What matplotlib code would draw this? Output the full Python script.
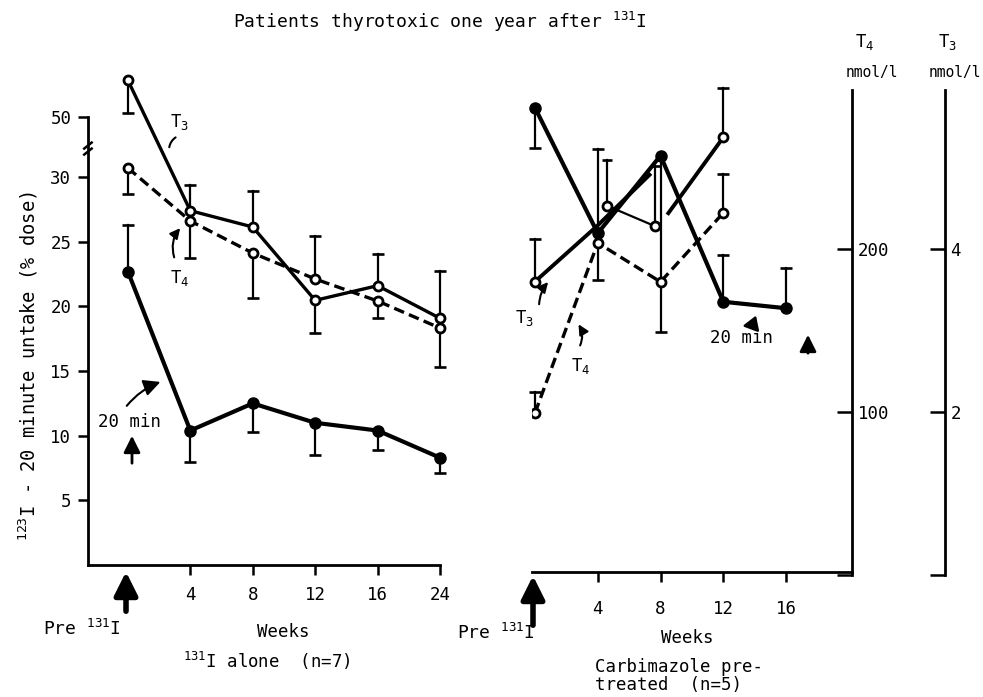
import numpy as np
import matplotlib
matplotlib.use("Agg")
import matplotlib.pyplot as plt

plt.rcParams['font.family'] = ['DejaVu Sans Mono']
plt.rcParams['mathtext.fontset'] = 'custom'
plt.rcParams['mathtext.rm'] = 'DejaVu Sans Mono'
plt.rcParams['mathtext.it'] = 'DejaVu Sans Mono'

# ---------------- data ----------------
left_labels = ["Pre", "4", "8", "12", "16", "24"]
left_pos = [0, 1, 2, 3, 4, 5]
min20_left = [22.7, 10.4, 12.5, 11.0, 10.4, 8.3]          # % dose
min20_left_err = [26.3, 8.0, 10.3, 8.5, 8.9, 7.1]        # error bar end
t3_left = [6.07, 4.47, 4.27, 3.37, 3.55, 3.15]            # nmol/l
t3_left_err = [5.67, 4.79, 4.71, 2.97, 3.94, 3.73]
t4_left = [249.7, 217.2, 197.5, 181.6, 168.1, 151.5]      # nmol/l
t4_left_err = [233.7, 194.5, 169.9, 208.0, 157.7, 127.6]

right_weeks = [0, 4, 8, 12, 16]
min20_right = [35.9, 26.2, 32.2, 20.9, 20.4]
min20_right_err = [32.8, 32.7, 18.6, 24.5, 23.5]
t4_right_weeks = [0, 4, 8, 12]
t4_right = [99.4, 203.7, 179.8, 222.1]
t4_right_err = [112.3, 181.0, np.nan, 246.0]
t3_right_weeks = [0, 4, 7.3, np.nan, 8.5, 12]
t3_right = [3.60, 4.29, 4.91, np.nan, 4.44, 5.37]
t3_right_pts_weeks = [0, 12]
t3_right_pts = [3.60, 5.37]
t3_right_err = [4.12, 5.98]
t3b_right_weeks = [4.6, 7.65]
t3b_right = [4.53, 4.28]
t3b_right_err = [5.09, 5.02]

left_yticks = [5, 10, 15, 20, 25, 30, 50]
right_xticks = [4, 8, 12, 16]
t4_ticks = [0, 100, 200]
t4_ticklabels = ["", "100", "200"]
t3_ticks = [0, 2, 4]
t3_ticklabels = ["", "2", "4"]

# ---------------- figure ----------------
W, H = 983, 697
fig = plt.figure(figsize=(W / 100, H / 100), dpi=100)


def axes_px(left, right, top, bottom):
    ax = fig.add_axes([left / W, 1 - bottom / H, (right - left) / W, (bottom - top) / H])
    ax.patch.set_alpha(0)
    return ax


def bare(ax):
    for s in ax.spines.values():
        s.set_visible(False)
    ax.set_xticks([])
    ax.set_yticks([])


def errbars(ax, xs, ys, ends, cap=9):
    for x, y, e in zip(xs, ys, ends):
        if np.isfinite(e):
            ax.plot([x, x], [y, e], color='k', lw=1.6, zorder=2, clip_on=False)
            ax.plot([x], [e], marker='_', ms=cap, mew=1.9, color='k', zorder=2, clip_on=False)


BRK = 0.2325


def fwd(v):
    v = np.asarray(v, float)
    return np.where(v <= 30, v, 30 + (v - 30) * BRK)


def inv(d):
    d = np.asarray(d, float)
    return np.where(d <= 30, d, 30 + (d - 30) / BRK)


LW = 2.4
dash = (0, (3.2, 1.6))
TS = 12.5

# ---- left panel (% dose) ----
ax1 = axes_px(88, 440, 60, 565)
ax1.set_yscale('function', functions=(fwd, inv))
ax1.set_xlim(-0.639, 5.0)
ax1.set_ylim(0, float(inv(39.06)))
for s in ['top', 'right']:
    ax1.spines[s].set_visible(False)
ax1.spines['left'].set_bounds(0, 50)
ax1.spines['left'].set_linewidth(2)
ax1.spines['bottom'].set_linewidth(2)
ax1.set_yticks(left_yticks)
ax1.set_yticklabels([str(t) for t in left_yticks])
ax1.set_xticks(left_pos[1:])
ax1.set_xticklabels(left_labels[1:])
ax1.yaxis.set_minor_locator(matplotlib.ticker.NullLocator())
ax1.tick_params(axis='both', direction='out', length=7, width=1.8, labelsize=TS, pad=5)
ax1.tick_params(axis='x', pad=8)
# axis break mark
ax1.plot([-0.70, -0.58], [37.5, 39.5], color='k', lw=1.8, clip_on=False)
ax1.plot([-0.70, -0.58], [39.5, 41.5], color='k', lw=1.8, clip_on=False)

errbars(ax1, left_pos, min20_left, min20_left_err)
ax1.plot(left_pos, min20_left, color='k', lw=LW + 0.6, marker='o', ms=8, mfc='k', mec='k',
         zorder=3, clip_on=False)

# left T4 / T3 overlays (nmol/l)
ax1t4 = axes_px(88, 440, 60, 575)
ax1t4.set_xlim(-0.639, 5.0)
ax1t4.set_ylim(0, 315.95)
bare(ax1t4)
errbars(ax1t4, left_pos, t4_left, t4_left_err)
ax1t4.plot(left_pos, t4_left, color='k', lw=LW, ls=dash, marker='o', ms=6.5,
           mfc='white', mec='k', mew=2, zorder=3, clip_on=False)

ax1t3 = axes_px(88, 440, 60, 575)
ax1t3.set_xlim(-0.639, 5.0)
ax1t3.set_ylim(0, 6.319)
bare(ax1t3)
errbars(ax1t3, left_pos, t3_left, t3_left_err)
ax1t3.plot(left_pos, t3_left, color='k', lw=LW, marker='o', ms=6.5,
           mfc='white', mec='k', mew=2, zorder=3, clip_on=False)

# ---- right panel (% dose) ----
RX0 = 535.0
PXW = 15.69
T4X = 852
T3X = 945
ax2 = axes_px(532, T4X, 60, 572)
ax2.set_xlim((532 - RX0) / PXW, (T4X - RX0) / PXW)
ax2.set_ylim(0, 512 / 12.93)
for s in ['top', 'right', 'left']:
    ax2.spines[s].set_visible(False)
ax2.spines['bottom'].set_linewidth(2)
ax2.set_yticks([])
ax2.set_xticks(right_xticks)
ax2.set_xticklabels([str(t) for t in right_xticks])
ax2.tick_params(axis='x', direction='out', length=7, width=1.8, labelsize=TS, pad=13)
errbars(ax2, right_weeks, min20_right, min20_right_err)
ax2.plot(right_weeks, min20_right, color='k', lw=LW + 0.6, marker='o', ms=8,
         mfc='k', mec='k', zorder=3, clip_on=False)

# right T4 overlay whose right spine is the T4 axis
ax2t4 = axes_px(532, T4X, 90, 575)
ax2t4.set_xlim((532 - RX0) / PXW, (T4X - RX0) / PXW)
ax2t4.set_ylim(0, 297.5)
for s in ['top', 'left', 'bottom']:
    ax2t4.spines[s].set_visible(False)
ax2t4.spines['right'].set_linewidth(2)
ax2t4.set_xticks([])
ax2t4.yaxis.tick_right()
ax2t4.set_yticks(t4_ticks)
ax2t4.set_yticklabels(t4_ticklabels)
ax2t4.tick_params(axis='y', direction='in', length=11, width=1.8, labelsize=TS, pad=4)
errbars(ax2t4, t4_right_weeks, t4_right, t4_right_err)
ax2t4.plot(t4_right_weeks, t4_right, color='k', lw=LW, ls=dash, marker='o', ms=6.5,
           mfc='white', mec='k', mew=2, zorder=3)

# right T3 overlay whose right spine is the T3 axis
ax2t3 = axes_px(532, T3X, 90, 575)
ax2t3.set_xlim((532 - RX0) / PXW, (T3X - RX0) / PXW)
ax2t3.set_ylim(0, 5.951)
for s in ['top', 'left', 'bottom']:
    ax2t3.spines[s].set_visible(False)
ax2t3.spines['right'].set_linewidth(2)
ax2t3.set_xticks([])
ax2t3.yaxis.tick_right()
ax2t3.set_yticks(t3_ticks)
ax2t3.set_yticklabels(t3_ticklabels)
ax2t3.tick_params(axis='y', direction='in', length=11, width=1.8, labelsize=TS, pad=4)
errbars(ax2t3, t3_right_pts_weeks, t3_right_pts, t3_right_err)
errbars(ax2t3, t3b_right_weeks, t3b_right, t3b_right_err, cap=7)
ax2t3.plot(t3_right_weeks, t3_right, color='k', lw=LW + 0.4, zorder=3)
ax2t3.plot(t3_right_pts_weeks, t3_right_pts, ls='none', marker='o', ms=6.5,
           mfc='white', mec='k', mew=2, zorder=4, clip_on=False)
ax2t3.plot(t3b_right_weeks, t3b_right, color='k', lw=1.6, marker='o', ms=6.5,
           mfc='white', mec='k', mew=2, zorder=4)

# ---------------- texts ----------------
def ftext(px, py, s, **kw):
    kw.setdefault('fontsize', TS)
    kw.setdefault('ha', 'center')
    kw.setdefault('va', 'center')
    fig.text(px / W, 1 - py / H, s, **kw)


ftext(440, 22, r"Patients thyrotoxic one year after $^{131}$I", fontsize=13)
ftext(28, 366, r"$^{123}$I - 20 minute untake (% dose)", rotation=90, fontsize=13.5)
ftext(82, 629, r"Pre $^{131}$I", fontsize=13)
ftext(283, 632, "Weeks")
ftext(183, 661, r"$^{131}$I alone  (n=7)", ha='left')
ftext(496, 633, r"Pre $^{131}$I", fontsize=13)
ftext(687, 638, "Weeks")
ftext(595, 667, "Carbimazole pre-", ha='left')
ftext(595, 685, "treated  (n=5)", ha='left')
ftext(865, 42, r"T$_4$")
ftext(872, 72, "nmol/l", fontsize=10.5)
ftext(948, 42, r"T$_3$")
ftext(955, 72, "nmol/l", fontsize=10.5)

ftext(180, 122, r"T$_3$")
ftext(180, 278, r"T$_4$")
ftext(525, 318, r"T$_3$")
ftext(581, 366, r"T$_4$")
ftext(130, 422, "20 min")
ftext(742, 338, "20 min")


def farrow(x0, y0, x1, y1, style='-|>', lw=1.5, rad=0.0, hl=0.5, hw=0.25):
    fig.add_artist(matplotlib.patches.FancyArrowPatch(
        (x0 / W, 1 - y0 / H), (x1 / W, 1 - y1 / H), transform=fig.transFigure,
        arrowstyle=f"{style},head_length={hl},head_width={hw}" if style != '-' else '-',
        connectionstyle=f"arc3,rad={rad}", lw=lw, color='k', mutation_scale=20))


# big arrows under axes
farrow(126, 614, 126, 569, lw=4, hl=0.7, hw=0.35)
farrow(533, 628, 533, 573, lw=4, hl=0.7, hw=0.35)
# 20 min arrows
farrow(125, 408, 163, 381, rad=-0.15, hl=0.5, hw=0.25)
farrow(132, 466, 132, 433, lw=2, hl=0.5, hw=0.25)
farrow(751, 329, 757, 313, lw=1.8, hl=0.4, hw=0.25)
farrow(808, 356, 808, 332, lw=2, hl=0.5, hw=0.25)
# T labels
farrow(178, 136, 169, 150, style='-', rad=0.3)
farrow(175, 260, 182, 226, style='-|>', rad=-0.3, hl=0.3, hw=0.15)
farrow(539, 307, 550, 280, style='-|>', rad=-0.2, hl=0.3, hw=0.15)
farrow(579, 348, 577, 322, style='-|>', rad=0.3, hl=0.3, hw=0.15)

fig.savefig("out.png", dpi=100)
